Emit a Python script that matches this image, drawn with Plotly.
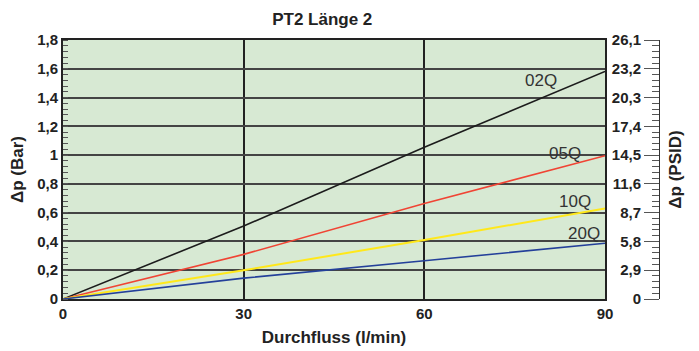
import plotly.graph_objects as go

# Flow rate (l/min) and pressure drop (bar) per element grade
flow = [0, 30, 60, 90]
dp_02q = [0, 0.507, 1.054, 1.582]
dp_05q = [0, 0.31, 0.664, 0.996]
dp_10q = [0, 0.20, 0.41, 0.629]
dp_20q = [0, 0.145, 0.266, 0.387]

series_names = ["02Q", "05Q", "10Q", "20Q"]
series_values = [dp_02q, dp_05q, dp_10q, dp_20q]
series_colors = ["#1c1c1c", "#f04434", "#ffe81a", "#24409a"]
series_widths = [1.6, 1.6, 2.0, 1.6]
label_pos = [(79.3, 1.517), (83.3, 1.008), (85.1, 0.676), (86.5, 0.456)]

# Axis ticks
x_ticks = [0, 30, 60, 90]
bar_ticks = [0, 0.2, 0.4, 0.6, 0.8, 1, 1.2, 1.4, 1.6, 1.8]
psi_ticks = [0, 2.9, 5.8, 8.7, 11.6, 14.5, 17.4, 20.3, 23.2, 26.1]
psi_labels = ["0", "2,9", "5,8", "8,7", "11,6", "14,5", "17,4", "20,3", "23,2", "26,1"]

FONT = "Liberation Sans, Arial, Helvetica, sans-serif"
TXT = "#222222"

fig = go.Figure()
for name, vals, col, w in zip(series_names, series_values, series_colors, series_widths):
    fig.add_trace(go.Scatter(x=flow, y=vals, mode="lines", name=name,
                             line=dict(color=col, width=w), showlegend=False,
                             hoverinfo="skip"))

# carrier traces for the PSID scale and its title axis
fig.add_trace(go.Scatter(x=[None], y=[None], yaxis="y2", showlegend=False, hoverinfo="skip"))
fig.add_trace(go.Scatter(x=[None], y=[None], yaxis="y3", showlegend=False, hoverinfo="skip"))

for name, (lx, ly) in zip(series_names, label_pos):
    fig.add_annotation(x=lx, y=ly, text=name, showarrow=False,
                       xanchor="center", yanchor="middle",
                       font=dict(family=FONT, size=17, color="#333333"))

fig.update_layout(
    width=699, height=351,
    margin=dict(l=63, r=40, t=40, b=52),
    paper_bgcolor="white",
    plot_bgcolor="#d7e9d3",
    separators=",.",
    font=dict(family=FONT, color=TXT),
    title=dict(text="<b>PT2 Länge 2</b>", x=0.435, xref="paper", xanchor="center",
               y=1 - 19.5 / 351, yref="container", yanchor="middle",
               font=dict(family=FONT, size=17, color=TXT)),
    xaxis=dict(
        domain=[0, 542 / 596], range=[0, 90], automargin=False,
        tickvals=x_ticks, ticks="", ticklabelstandoff=0,
        showgrid=True, gridcolor="#222222", gridwidth=1.5,
        showline=True, linecolor="#222222", linewidth=2, mirror=True,
        zeroline=False,
        tickfont=dict(family=FONT, size=15, color=TXT, weight="bold"),
        title=dict(text="<b>Durchfluss (l/min)</b>", standoff=10,
                   font=dict(family=FONT, size=17, color=TXT)),
    ),
    yaxis=dict(
        range=[0, 1.8], tickvals=bar_ticks, ticks="", automargin=False,
        showgrid=True, gridcolor="#444444", gridwidth=2,
        showline=True, linecolor="#222222", linewidth=2, mirror=True,
        zeroline=False,
        minor=dict(dtick=0.04, tick0=0, ticks="inside", ticklen=5,
                   tickcolor="#555555", tickwidth=1, showgrid=False),
        tickfont=dict(family=FONT, size=15, color=TXT, weight="bold"),
        title=dict(text="<b>Δp (Bar)</b>", standoff=9,
                   font=dict(family=FONT, size=17, color=TXT)),
    ),
    # PSID scale: line at the far right, ticks and labels on its left
    yaxis2=dict(
        overlaying="y", side="left", anchor="free", position=1, automargin=False,
        range=[0, 26.1], tickvals=psi_ticks, ticktext=psi_labels,
        ticks="outside", ticklen=15, tickcolor="#555555", tickwidth=1.2,
        showgrid=False, zeroline=False,
        showline=True, linecolor="#333333", linewidth=1,
        minor=dict(dtick=0.58, tick0=0, ticks="outside", ticklen=7,
                   tickcolor="#555555", tickwidth=1, showgrid=False),
        tickfont=dict(family=FONT, size=15, color=TXT, weight="bold"),
    ),
    yaxis3=dict(
        overlaying="y", side="right", anchor="free", position=1, automargin=False,
        range=[0, 26.1], showticklabels=False, ticks="", showline=False,
        showgrid=False, zeroline=False,
        title=dict(text="<b>Δp (PSID)</b>", standoff=10,
                   font=dict(family=FONT, size=17, color=TXT)),
    ),
)

fig.write_html("out.html")
